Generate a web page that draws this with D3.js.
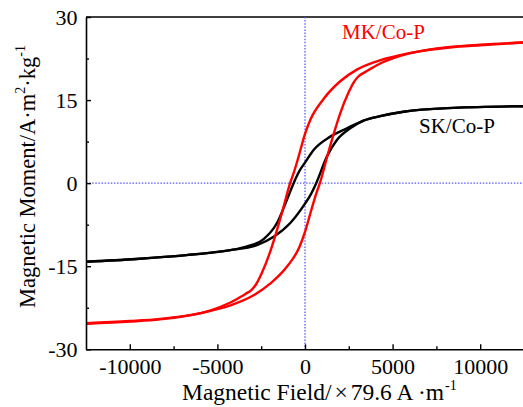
<!DOCTYPE html>
<html>
<head>
<meta charset="utf-8">
<script src="https://cdn.jsdelivr.net/npm/d3@7"></script>
<style>
  html, body { margin: 0; padding: 0; background: #fff; }
  svg { display: block; }
  svg text { font-family: "Liberation Serif", "DejaVu Serif", "Times New Roman", serif; }
</style>
</head>
<body>
<svg id="chart" width="523" height="407"></svg>
<script>
// Axis ticks
const xMajorTicks = [-10000, -5000, 0, 5000, 10000];
const xMinorTicks = [-7500, -2500, 2500, 7500];
const yMajorTicks = [-30, -15, 0, 15, 30];
const yMinorTicks = [-22.5, -7.5, 7.5, 22.5];

// Hysteresis loops: [field (Oe), moment (A·m²/kg)], each branch ordered by field
const mkDescending = [
  [-12500, -25.3], [-10000, -24.9], [-8280, -24.5], [-5430, -23.0], [-4290, -21.6],
  [-3720, -20.6], [-3400, -20.0], [-3060, -19.3], [-2800, -18.3], [-2490, -16.4],
  [-2010, -12.6], [-1630, -8.8], [-1250, -4.6], [-850, 0], [-650, 1.8], [-365, 4.8],
  [0, 8.9], [300, 11.4], [1060, 15.2], [2010, 18.4], [2960, 20.5], [4100, 22.0],
  [5430, 23.1], [8280, 24.6], [10000, 25.0], [12500, 25.4]
];
const mkAscending = [
  [-12500, -25.4], [-10000, -25.0], [-8280, -24.6], [-5430, -23.1], [-4100, -21.9],
  [-2960, -20.3], [-2010, -18.2], [-1060, -15.2], [-300, -11.4], [0, -8.8],
  [365, -4.8], [650, -1.8], [850, 0], [1250, 4.6], [1630, 8.8], [2010, 12.6],
  [2490, 16.4], [2800, 18.3], [3060, 19.3], [3400, 20.0], [3720, 20.6], [4290, 21.6],
  [5430, 23.0], [8280, 24.5], [10000, 24.9], [12500, 25.4]
];
const skDescending = [
  [-12500, -14.2], [-9620, -13.7], [-6770, -13.0], [-4260, -12.1], [-3310, -11.4],
  [-2360, -10.1], [-1600, -7.2], [-1030, -3.0], [-650, 0], [-300, 2.3], [0, 3.7],
  [490, 6.0], [1440, 8.4], [2390, 9.9], [3340, 11.3], [4290, 12.1], [5620, 12.9],
  [8470, 13.6], [12500, 13.9]
];
const skAscending = [
  [-12500, -14.2], [-9620, -13.7], [-6770, -13.0], [-4260, -12.1], [-2740, -11.2],
  [-1790, -9.7], [-840, -7.2], [0, -3.7], [300, -2.2], [640, 0], [1250, 4.8],
  [1820, 7.8], [2580, 9.9], [3340, 11.3], [4290, 12.1], [5620, 12.9],
  [8470, 13.6], [12500, 13.9]
];

const seriesNames = ["MK/Co-P", "SK/Co-P"];

const serif = "'Liberation Serif', 'DejaVu Serif', 'Times New Roman', serif";
const svg = d3.select("#chart");
const plotLeft = 86, plotRight = 524, plotTop = 17, plotBottom = 349.3;

const x = d3.scaleLinear().domain([-12500, 12500]).range([plotLeft, plotRight]);
const y = d3.scaleLinear().domain([-30, 30]).range([plotBottom, plotTop]);

const fmt = d => String(d).replace("\u2212", "-");

// Frame (top edge; right edge sits just outside the view)
svg.append("path")
  .attr("d", `M${plotLeft},${plotTop}H${plotRight}V${plotBottom}`)
  .attr("fill", "none").attr("stroke", "#000").attr("stroke-width", 1.6);

// Zero reference lines
const refColor = "#5a5aff";
svg.append("line")
  .attr("x1", x(0)).attr("x2", x(0)).attr("y1", plotTop).attr("y2", plotBottom)
  .attr("stroke", refColor).attr("stroke-width", 1.3).attr("stroke-dasharray", "1.5,1.6");
svg.append("line")
  .attr("x1", plotLeft).attr("x2", plotRight).attr("y1", y(0)).attr("y2", y(0))
  .attr("stroke", refColor).attr("stroke-width", 1.3).attr("stroke-dasharray", "1.5,1.6");

// Loops
const line = d3.line()
  .x(d => x(d[0])).y(d => y(d[1]))
  .curve(d3.curveMonotoneX);

const loops = [
  { branches: [skDescending, skAscending], color: "#000000" },
  { branches: [mkDescending, mkAscending], color: "#ff0000" }
];
loops.forEach(l => {
  l.branches.forEach(b => {
    svg.append("path")
      .attr("d", line(b))
      .attr("fill", "none")
      .attr("stroke", l.color)
      .attr("stroke-width", 2.4)
      .attr("stroke-linejoin", "round");
  });
});

// Axes
svg.append("g").attr("transform", `translate(0,${plotBottom})`)
  .call(d3.axisBottom(x).tickValues(xMajorTicks).tickFormat(fmt)
    .tickSizeInner(-5).tickSizeOuter(0).tickPadding(9.5));
svg.append("g").attr("transform", `translate(0,${plotBottom})`)
  .call(d3.axisBottom(x).tickValues(xMinorTicks).tickFormat("")
    .tickSizeInner(-3).tickSizeOuter(0))
  .select(".domain").remove();

svg.append("g").attr("transform", `translate(${plotLeft},0)`)
  .call(d3.axisLeft(y).tickValues(yMajorTicks).tickFormat(fmt)
    .tickSizeInner(-5).tickSizeOuter(0).tickPadding(8.5));
svg.append("g").attr("transform", `translate(${plotLeft},0)`)
  .call(d3.axisLeft(y).tickValues(yMinorTicks).tickFormat("")
    .tickSizeInner(-3).tickSizeOuter(0))
  .select(".domain").remove();

svg.selectAll("g").attr("font-family", serif);
svg.selectAll(".domain").attr("stroke", "#000").attr("stroke-width", 1.6);
svg.selectAll(".tick line").attr("stroke", "#000").attr("stroke-width", 1.4);
svg.selectAll(".tick text")
  .style("font-family", serif)
  .attr("font-size", 22).attr("fill", "#000");

// Axis titles
const xTitle = svg.append("text")
  .attr("x", 182).attr("y", 400)
  .style("font-family", serif)
  .attr("font-size", 23.5).attr("fill", "#000");
xTitle.append("tspan").text("Magnetic Field/");
xTitle.append("tspan").attr("dx", 3).text("\u00D7");
xTitle.append("tspan").attr("dx", 3).text("79.6 A \u00B7m");
xTitle.append("tspan").attr("font-size", 14).attr("dx", 1).attr("dy", -10).text("-1");

const yTitle = svg.append("text")
  .attr("transform", "translate(35,308) rotate(-90)")
  .style("font-family", serif)
  .attr("font-size", 22.5).attr("fill", "#000");
yTitle.append("tspan").text("Magnetic Moment/A\u00B7m");
yTitle.append("tspan").attr("font-size", 14).attr("dy", -10).text("2");
yTitle.append("tspan").attr("dy", 10).text("\u00B7kg");
yTitle.append("tspan").attr("font-size", 14).attr("dy", -10).text("-1");

// Series labels
svg.append("text").attr("x", 342).attr("y", 39)
  .style("font-family", serif)
  .attr("font-size", 21).attr("fill", "#ff0000").text(seriesNames[0]);
svg.append("text").attr("x", 419).attr("y", 133)
  .style("font-family", serif)
  .attr("font-size", 21).attr("fill", "#000").text(seriesNames[1]);
</script>
</body>
</html>
